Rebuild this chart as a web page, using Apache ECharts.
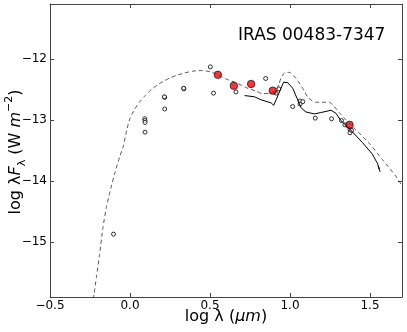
<!DOCTYPE html>
<html>
<head>
<meta charset="utf-8">
<script src="https://cdn.jsdelivr.net/npm/echarts@6/dist/echarts.min.js"></script>
<style>
  html, body { margin: 0; padding: 0; background: #fff; }
  #chart { width: 407px; height: 332px; }
</style>
</head>
<body>
<div id="chart"></div>
<script>
// model SED curves (log lambda, log lambda F_lambda)
const modelDashed = [
  [-0.235, -16.05], [-0.224, -15.84], [-0.21, -15.58], [-0.19, -15.2], [-0.17, -14.78],
  [-0.147, -14.42], [-0.12, -14.12], [-0.095, -13.87], [-0.064, -13.6], [-0.043, -13.44],
  [-0.02, -13.16], [-0.001, -12.98], [0.03, -12.82], [0.061, -12.7], [0.095, -12.6],
  [0.134, -12.5], [0.17, -12.43], [0.206, -12.37], [0.25, -12.31], [0.29, -12.27],
  [0.34, -12.23], [0.393, -12.2], [0.45, -12.19], [0.5, -12.21],
  [0.549, -12.26], [0.602, -12.33], [0.664, -12.39], [0.726, -12.47], [0.789, -12.53],
  [0.83, -12.57], [0.872, -12.56], [0.91, -12.52], [0.93, -12.42], [0.944, -12.31],
  [0.965, -12.23], [0.996, -12.22], [1.038, -12.32], [1.079, -12.48], [1.11, -12.62],
  [1.14, -12.69], [1.163, -12.71], [1.2, -12.71], [1.246, -12.71], [1.27, -12.76],
  [1.308, -12.88], [1.35, -13.0], [1.412, -13.16], [1.495, -13.38], [1.578, -13.65],
  [1.661, -13.92], [1.7, -14.08]
]
const spectrum = [
  [0.716, -12.6], [0.778, -12.62], [0.82, -12.67], [0.882, -12.72], [0.898, -12.76],
  [0.913, -12.67], [0.944, -12.48], [0.96, -12.38], [0.986, -12.39], [1.017, -12.48],
  [1.048, -12.67], [1.069, -12.8], [1.1, -12.87], [1.152, -12.9], [1.19, -12.88],
  [1.225, -12.86], [1.256, -12.84], [1.287, -12.89], [1.318, -13.01], [1.37, -13.14],
  [1.453, -13.37], [1.515, -13.56], [1.548, -13.72], [1.557, -13.8], [1.552, -13.76],
  [1.563, -13.85]
]
// photometry
const redPoints = [[0.549, -12.26], [0.649, -12.44], [0.757, -12.41], [0.892, -12.52], [1.372, -13.08]]
const smallPoints = [
  [0.502, -12.13], [0.337, -12.49], [0.335, -12.48], [0.217, -12.63], [0.215, -12.62],
  [0.217, -12.82], [0.522, -12.56], [0.662, -12.54], [0.848, -12.32], [0.93, -12.49],
  [0.913, -12.56], [1.017, -12.78], [1.063, -12.69], [1.08, -12.7], [1.063, -12.74],
  [1.158, -12.97], [1.26, -12.98], [1.322, -13.01], [1.343, -13.08], [1.375, -13.16],
  [1.375, -13.21], [1.385, -13.17], [0.092, -12.98], [0.094, -13.01], [0.094, -13.04],
  [0.094, -13.2], [-0.103, -14.87]
]
const xTicks = [-0.5, 0, 0.5, 1, 1.5]
const yTicks = [-15, -14, -13, -12]

const font = 'DejaVu Sans'
const minus = s => s.replace('-', '\u2212')

const axisBase = {
  axisLine: { show: true, onZero: false, lineStyle: { color: '#444', width: 1 } },
  axisTick: { show: true, inside: true, length: 4, lineStyle: { color: '#444' } },
  splitLine: { show: false }
}

const chart = echarts.init(document.getElementById('chart'), null, { renderer: 'canvas' })
chart.setOption({
  backgroundColor: '#fff',
  animation: false,
  grid: { left: 50, top: 4, width: 352, height: 293 },
  xAxis: [{
    ...axisBase,
    type: 'value', min: -0.5, max: 1.7, position: 'bottom',
    axisTick: { ...axisBase.axisTick, customValues: xTicks },
    axisLabel: {
      customValues: xTicks, margin: 3, color: '#000', fontFamily: font, fontSize: 12,
      formatter: v => minus(v.toFixed(1))
    }
  }, {
    ...axisBase,
    type: 'value', min: -0.5, max: 1.7, position: 'top',
    axisTick: { ...axisBase.axisTick, customValues: xTicks },
    axisLabel: { show: false }
  }],
  yAxis: [{
    ...axisBase,
    type: 'value', min: -15.9, max: -11.1, position: 'left',
    axisTick: { ...axisBase.axisTick, customValues: yTicks },
    axisLabel: {
      customValues: yTicks, margin: 3, color: '#000', fontFamily: font, fontSize: 12,
      formatter: v => minus(String(v))
    }
  }, {
    ...axisBase,
    type: 'value', min: -15.9, max: -11.1, position: 'right',
    axisTick: { ...axisBase.axisTick, customValues: yTicks },
    axisLabel: { show: false }
  }],
  series: [{
    type: 'line', data: modelDashed, showSymbol: false, symbol: 'none', clip: true,
    smooth: 0.2,
    lineStyle: { color: '#444', width: 0.9, type: [4, 3] }
  }, {
    type: 'line', data: spectrum, showSymbol: false, symbol: 'none', clip: true,
    lineStyle: { color: '#000', width: 1 }
  }, {
    type: 'scatter', data: smallPoints, symbol: 'circle', symbolSize: 4,
    itemStyle: { color: '#fff', borderColor: '#000', borderWidth: 1 }
  }, {
    type: 'scatter', data: redPoints, symbol: 'circle', symbolSize: 7.5,
    itemStyle: { color: '#f00', borderColor: '#000', borderWidth: 0.8 }
  }],
  graphic: [{
    type: 'text', left: 238, top: 27,
    style: { text: 'IRAS 00483-7347', font: '17px ' + font, fill: '#000' }
  }, {
    type: 'text', x: 226, y: 317,
    style: {
      text: '{a|log λ (}{i|μm}{a|)}',
      align: 'center', verticalAlign: 'middle',
      rich: {
        a: { fontFamily: font, fontSize: 16, fill: '#000' },
        i: { fontFamily: font, fontSize: 16, fontStyle: 'italic', fill: '#000' }
      }
    }
  }, {
    type: 'text', x: 16, y: 152, rotation: Math.PI / 2,
    style: {
      text: '{a|log λ}{i|F}{s|λ}{a| (W }{i|m}{p|−2}{a|)}',
      align: 'center', verticalAlign: 'middle',
      rich: {
        a: { fontFamily: font, fontSize: 16, lineHeight: 24, fill: '#000' },
        i: { fontFamily: font, fontSize: 16, fontStyle: 'italic', lineHeight: 24, fill: '#000' },
        s: { fontFamily: font, fontSize: 11, lineHeight: 14, verticalAlign: 'bottom', fill: '#000' },
        p: { fontFamily: font, fontSize: 11, lineHeight: 14, verticalAlign: 'top', fill: '#000' }
      }
    }
  }]
})
</script>
</body>
</html>
